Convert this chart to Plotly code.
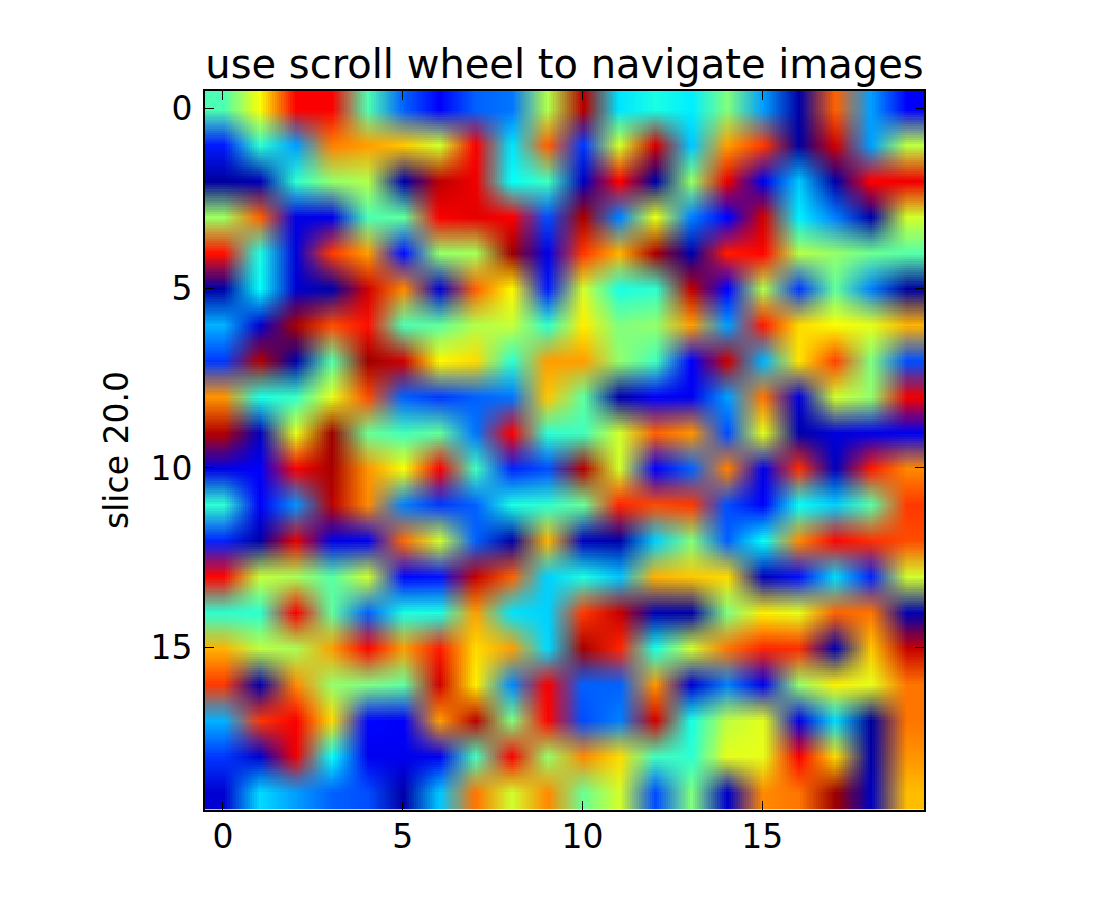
import base64
import struct
import zlib
import plotly.graph_objects as go

z_values = [
    [45,62,88,88,45,22,12,22,24,55,95,35,40,36,50,28,4,78,28,12],
    [15,42,28,75,72,68,58,88,35,78,18,58,92,32,72,82,3,92,28,56],
    [3,5,42,52,55,4,94,89,38,44,6,88,3,52,90,10,32,4,88,89],
    [53,78,10,10,45,47,88,90,88,20,96,25,60,25,12,92,36,25,4,58],
    [86,40,9,82,72,14,52,54,97,10,82,70,96,4,85,87,55,52,48,46],
    [4,38,8,4,92,74,8,78,63,15,58,40,42,94,12,55,18,47,25,3],
    [30,8,96,80,86,45,47,55,57,42,64,50,52,72,28,85,66,62,60,70],
    [18,95,4,46,97,92,63,66,42,72,72,52,44,12,93,30,65,81,50,20],
    [73,40,43,60,80,22,18,22,24,68,47,4,12,11,28,76,9,58,52,89],
    [95,6,60,97,48,44,47,24,88,42,44,58,78,73,20,60,4,9,10,11],
    [10,12,88,96,73,62,88,44,16,20,95,58,12,22,75,10,83,6,85,74],
    [42,12,27,94,74,25,18,22,40,42,48,84,80,82,20,12,38,33,46,82],
    [16,4,90,10,11,77,58,22,4,70,6,4,33,50,22,38,74,87,83,80],
    [87,57,54,46,58,13,14,93,78,33,40,32,70,68,66,6,14,34,16,58],
    [42,42,88,47,22,40,40,72,35,33,82,93,5,4,50,64,60,78,76,5],
    [70,56,54,72,87,72,85,66,72,34,96,84,40,58,76,84,83,5,68,93],
    [82,5,74,52,50,47,92,64,26,88,22,22,73,8,25,11,52,64,60,76],
    [30,82,88,66,13,12,72,94,50,87,20,25,92,40,56,60,10,34,3,76],
    [18,8,89,38,11,11,11,44,88,52,74,66,44,42,60,60,88,66,4,73],
    [8,34,28,22,20,4,32,76,58,74,48,58,20,50,7,74,76,97,6,69],
]
x_ticks = [0, 5, 10, 15]
y_ticks = [0, 5, 10, 15]
title_text = "use scroll wheel to navigate images"
y_title = "slice 20.0"


def jet(v):
    t = v / 100
    def ch(c):
        return max(0.0, min(1.0, 1.5 - abs(4 * t - c)))
    return [round(255 * ch(c)) for c in (3, 2, 1)]


def png_uri(rows):
    def chunk(tag, data):
        return struct.pack(">I", len(data)) + tag + data + struct.pack(">I", zlib.crc32(tag + data))
    raw = b"".join(b"\x00" + bytes(c for v in r for c in jet(v)) for r in rows)
    h, w = len(rows), len(rows[0])
    png = (b"\x89PNG\r\n\x1a\n" + chunk(b"IHDR", struct.pack(">IIBBBBB", w, h, 8, 2, 0, 0, 0))
           + chunk(b"IDAT", zlib.compress(raw)) + chunk(b"IEND", b""))
    return "data:image/png;base64," + base64.b64encode(png).decode()


fig = go.Figure(go.Image(source=png_uri(z_values), x0=0, dx=1, y0=0, dy=1, zsmooth="fast", hoverinfo="skip"))

axis_common = dict(
    ticks="inside", ticklen=9, tickwidth=1, tickcolor="black",
    showline=True, linewidth=2, linecolor="black", mirror="ticks",
    showgrid=False, zeroline=False,
    tickfont=dict(family="DejaVu Sans", size=33, color="black"),
)
fig.update_layout(
    width=1100, height=900, autosize=False,
    margin=dict(l=197, r=184, t=82, b=98, pad=0),
    paper_bgcolor="white", plot_bgcolor="white",
    font=dict(family="DejaVu Sans", color="black"),
    title=dict(text=title_text, font=dict(size=40, family="DejaVu Sans", color="black"),
               x=0.5, xref="paper", xanchor="center", y=1, yref="paper", yanchor="bottom",
               pad=dict(b=12)),
    xaxis=dict(range=[-0.5, 19.5], tickvals=x_ticks, ticklabelstandoff=-3, **axis_common),
    yaxis=dict(range=[19.5, -0.5], tickvals=y_ticks, ticklabelstandoff=4,
               title=dict(text=y_title, standoff=12, font=dict(size=33, family="DejaVu Sans", color="black")),
               **axis_common),
)
fig.write_html("out.html")
